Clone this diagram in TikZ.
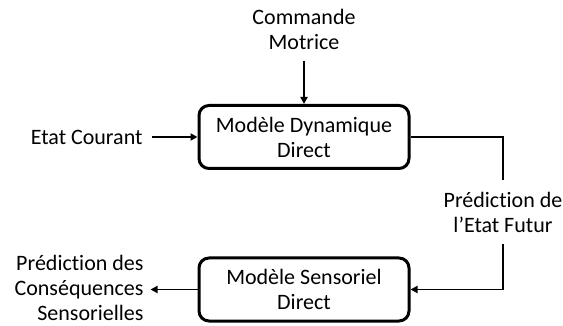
\documentclass[tikz,border=0pt]{standalone}
\usepackage{fontspec}
\setmainfont{Carlito}[Ligatures=NoCommon]
\usetikzlibrary{positioning,arrows.meta}

\begin{document}
\begin{tikzpicture}[x=1pt, y=-1pt, node distance={45pt},
	font=\fontsize{22}{25}\selectfont,
	bloc/.style={draw, line width=3pt, rounded corners=10pt, minimum width=210pt, minimum height=63pt, align=center, inner sep=2pt},
	txt/.style={align=center, inner sep=0pt, outer sep=9pt},
	fleche/.style={line width=1.8pt, -{Triangle[length=7pt,width=7pt]}}]
		\useasboundingbox (0,0) rectangle (563,326);

		\node[bloc] (dyn) at (304,137) {Modèle Dynamique\\Direct};
		\node[bloc] (sens) at (304,289.5) {Modèle Sensoriel\\Direct};

		\node[txt, outer sep=11pt] (cmd) [above=43pt of dyn] {Commande\\Motrice};
		\node[txt] (etat) [left=46pt of dyn] {Etat Courant};
		\node[txt, outer sep=12pt] (pred) at (503,212) {Prédiction de\\l’Etat Futur};
		\node[txt, align=right, outer sep=7pt] (csq) [left=47pt of sens, yshift=2pt] {Prédiction des\\Conséquences\\Sensorielles};

		\draw[fleche] (cmd) -- (dyn);
		\draw[fleche] (etat) -- (dyn);
		\draw[line width=1.8pt] (dyn.east) -| (pred.north);
		\draw[fleche] (pred.south) |- (sens.east);
		\draw[fleche] (sens) -- (csq.east |- sens);
	\end{tikzpicture}
\end{document}
